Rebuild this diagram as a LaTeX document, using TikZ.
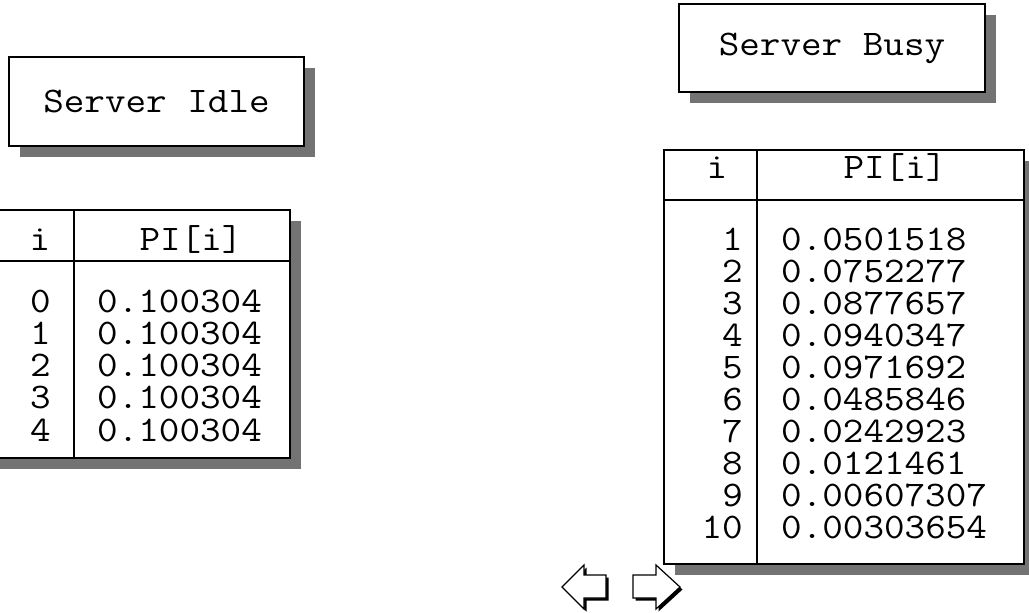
\documentclass[tikz,border=0pt]{standalone}
\usetikzlibrary{shadows}
\newcommand\wideT[1]{\scalebox{1.11}[1]{#1}}
\begin{document}
\begin{tikzpicture}[x=1pt,y=-1pt,
  txt/.style={font=\ttfamily\fontsize{36}{32}\selectfont, inner sep=0pt, anchor=base},
  numr/.style={txt, anchor=base east},
  numl/.style={txt, anchor=base west},
  shad/.style={drop shadow={shadow xshift=11pt, shadow yshift=-11pt, fill=black!55, opacity=1}},
  frame/.style={draw, line width=2pt, fill=white, inner sep=0pt, shad},
  rule/.style={line width=2pt},
  arrowshape/.style={fill=white, draw, line width=1.2pt, line join=miter},
  arrowshadow/.style={fill=black}]
\useasboundingbox (0,0) rectangle (1029,613);

% Server Idle
\node[frame, minimum width=295pt, minimum height=89pt] (idle) at (156.5,101.5) {};
\node[txt, anchor=center] (idletxt) at (idle.center) {\wideT{Server Idle}};

% Server Busy
\node[frame, minimum width=306pt, minimum height=88pt] (busy) at (832,48) {};
\node[txt, anchor=center] (busytxt) at (busy.center) {\wideT{Server Busy}};

% Left table
\node[frame, minimum width=330pt, minimum height=248pt] (ltab) at (125,334) {};
\draw[rule] (-40,261) -- (290,261);
\draw[rule] (74,210) -- (74,458);
\node[txt, anchor=base] (lhi) at (40,250) {\wideT{i}};
\node[txt, anchor=base] (lhp) at (191,250) {\wideT{PI[i]}};
\foreach \k [count=\r from 0] in {0,1,2,3,4} {
  \node[numr] (li\k) at (51,312+32.25*\r) {\wideT{\k}};
  \node[numl] (lv\k) at (97,312+32.25*\r) {\wideT{0.100304}};
}

% Right table
\node[frame, minimum width=360pt, minimum height=414pt] (rtab) at (844,357) {};
\draw[rule] (664,200) -- (1024,200);
\draw[rule] (757,150) -- (757,564);
\node[txt, anchor=base] (rhi) at (717,178) {\wideT{i}};
\node[txt, anchor=base] (rhp) at (895,178) {\wideT{PI[i]}};
\foreach \k/\v [count=\r from 0] in {1/0.0501518,2/0.0752277,3/0.0877657,4/0.0940347,5/0.0971692,6/0.0485846,7/0.0242923,8/0.0121461,9/0.00607307,10/0.00303654} {
  \node[numr] (ri\k) at (743,250+32*\r) {\wideT{\k}};
  \node[numl] (rv\k) at (781,250+32*\r) {\wideT{\v}};
}

% Navigation arrows
\fill[arrowshadow, shift={(2.5,2.5)}] (562,587) -- (584,565) -- (584,575) -- (606,575) -- (606,598) -- (584,598) -- (584,609) -- cycle;
\filldraw[arrowshape] (562,587) -- (584,565) -- (584,575) -- (606,575) -- (606,598) -- (584,598) -- (584,609) -- cycle;
\fill[arrowshadow, shift={(2.5,2.5)}] (633,575) -- (656,575) -- (656,565) -- (680,587) -- (656,609) -- (656,598) -- (633,598) -- cycle;
\filldraw[arrowshape] (633,575) -- (656,575) -- (656,565) -- (680,587) -- (656,609) -- (656,598) -- (633,598) -- cycle;
\end{tikzpicture}
\end{document}
